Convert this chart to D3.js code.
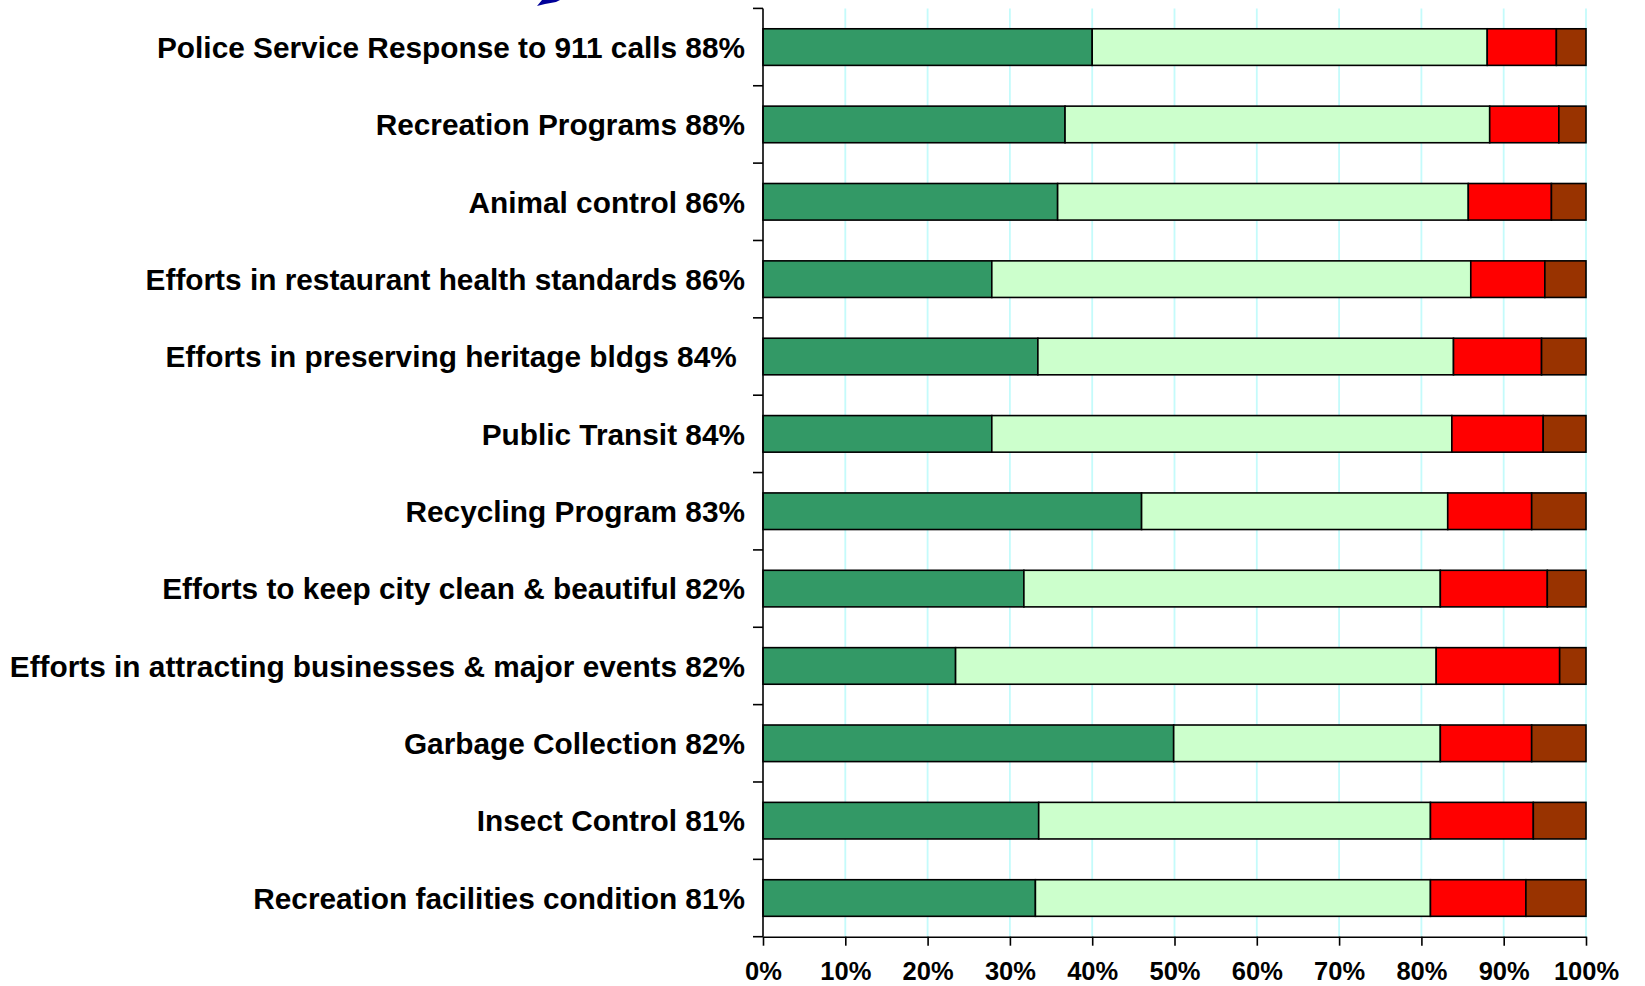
<!DOCTYPE html>
<html>
<head>
<meta charset="utf-8">
<script src="https://cdn.jsdelivr.net/npm/d3@7"></script>
<style>
  html, body { margin: 0; padding: 0; background: #ffffff; }
  svg { display: block; }
  text { font-family: "Liberation Sans", Arial, sans-serif; font-weight: bold; fill: #000; }
</style>
</head>
<body>
<svg id="chart" width="1645" height="986"></svg>
<script>
// Satisfaction ratings by city service (share of respondents, %)
const services = [
  "Police Service Response to 911 calls 88%",
  "Recreation Programs 88%",
  "Animal control 86%",
  "Efforts in restaurant health standards 86%",
  "Efforts in preserving heritage bldgs 84% ",
  "Public Transit 84%",
  "Recycling Program 83%",
  "Efforts to keep city clean & beautiful 82%",
  "Efforts in attracting businesses & major events 82%",
  "Garbage Collection 82%",
  "Insect Control 81%",
  "Recreation facilities condition 81%"
];
const verySatisfied     = [40.0, 36.7, 35.8, 27.8, 33.4, 27.8, 46.0, 31.7, 23.4, 49.9, 33.5, 33.1];
const somewhatSatisfied = [48.0, 51.6, 49.9, 58.2, 50.5, 55.9, 37.2, 50.6, 58.4, 32.4, 47.6, 48.0];
const somewhatDissatisfied = [8.4, 8.4, 10.1, 9.0, 10.7, 11.1, 10.2, 13.0, 15.0, 11.1, 12.5, 11.6];
const veryDissatisfied  = [3.6, 3.3, 4.2, 5.0, 5.4, 5.2, 6.6, 4.7, 3.2, 6.6, 6.4, 7.3];
const xTicks = [0, 10, 20, 30, 40, 50, 60, 70, 80, 90, 100];

const seriesKeys = ["verySatisfied", "somewhatSatisfied", "somewhatDissatisfied", "veryDissatisfied"];
const seriesColors = ["#339966", "#ccffcc", "#ff0000", "#993300"];

const rows = services.map((s, i) => ({
  service: s,
  verySatisfied: verySatisfied[i],
  somewhatSatisfied: somewhatSatisfied[i],
  somewhatDissatisfied: somewhatDissatisfied[i],
  veryDissatisfied: veryDissatisfied[i]
}));

// Normalise each row to 100% so the stacks fill the axis
const stacked = d3.stack().keys(seriesKeys).offset(d3.stackOffsetExpand)(rows);

const svg = d3.select("#chart");
const plot = { left: 763, right: 1586, top: 8.4, bottom: 936.7 };

const x = d3.scaleLinear().domain([0, 1]).range([plot.left, plot.right]);
const y = d3.scaleBand().domain(services).range([plot.top, plot.bottom])
  .paddingInner(0.527).paddingOuter(0.2635);
const color = d3.scaleOrdinal().domain(seriesKeys).range(seriesColors);

// Vertical gridlines
svg.append("g")
  .selectAll("line")
  .data(xTicks.slice(1))
  .join("line")
  .attr("x1", d => x(d / 100)).attr("x2", d => x(d / 100))
  .attr("y1", plot.top).attr("y2", plot.bottom)
  .attr("stroke", "#c4fbfb").attr("stroke-width", 1.8);

// Stacked bars
svg.append("g")
  .selectAll("g")
  .data(stacked)
  .join("g")
  .attr("fill", d => color(d.key))
  .selectAll("rect")
  .data(d => d)
  .join("rect")
  .attr("x", d => x(d[0]))
  .attr("width", d => x(d[1]) - x(d[0]))
  .attr("y", d => y(d.data.service))
  .attr("height", y.bandwidth())
  .attr("stroke", "#000").attr("stroke-width", 1.6);

// Category axis: ticks sit on the band boundaries
const boundaries = services.map(s => y(s) - y.step() * y.paddingInner() / 2).concat([plot.bottom]);
const yAxis = svg.append("g");
yAxis.append("line")
  .attr("x1", plot.left).attr("x2", plot.left)
  .attr("y1", plot.top).attr("y2", plot.bottom)
  .attr("stroke", "#000").attr("stroke-width", 1.6);
yAxis.selectAll("line.tick")
  .data(boundaries)
  .join("line")
  .attr("class", "tick")
  .attr("x1", plot.left - 10).attr("x2", plot.left)
  .attr("y1", d => d).attr("y2", d => d)
  .attr("stroke", "#000").attr("stroke-width", 1.6);
yAxis.selectAll("text")
  .data(services)
  .join("text")
  .attr("x", 745)
  .attr("y", d => y(d) + y.bandwidth() / 2)
  .attr("dy", "0.36em")
  .attr("text-anchor", "end")
  .style("white-space", "pre")
  .attr("font-size", 29.8)
  .text(d => d);

// Percentage axis
const xAxis = d3.axisBottom(x)
  .tickValues(xTicks.map(t => t / 100))
  .tickFormat(d3.format(".0%"))
  .tickSize(9)
  .tickSizeOuter(0)
  .tickPadding(16.5);
const xg = svg.append("g")
  .attr("transform", `translate(0,${plot.bottom})`)
  .call(xAxis);
xg.select(".domain").attr("stroke", "#000").attr("stroke-width", 1.6);
xg.selectAll(".tick line").attr("stroke", "#000").attr("stroke-width", 1.6);
xg.selectAll(".tick text")
  .attr("font-size", 25.5)
  .attr("font-family", "'Liberation Sans', Arial, sans-serif")
  .attr("font-weight", "bold")
  .attr("fill", "#000");

// Fragment of a pointer graphic along the top edge
svg.append("path")
  .attr("d", "M537,6 L542,0 L560,0 L556,2 L545,4 Z")
  .attr("fill", "#000099");
</script>
</body>
</html>
